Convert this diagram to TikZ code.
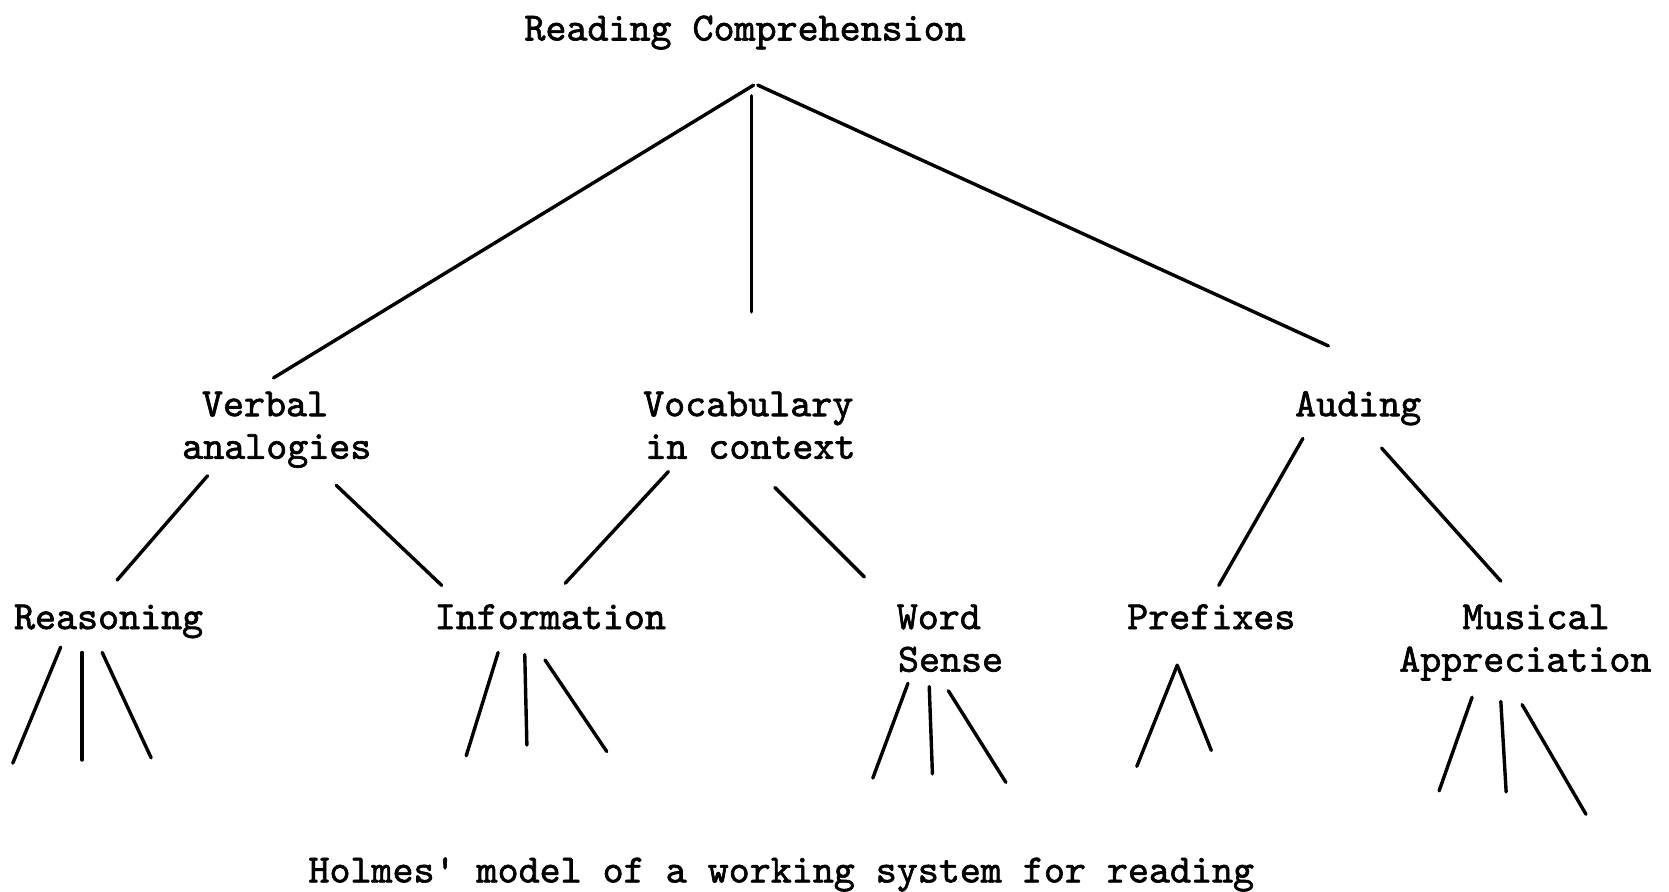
\documentclass[tikz,border=0pt]{standalone}
\usepackage{fontspec}
\newfontfamily\twfont{lmmono10-regular.otf}[FakeBold=1.6]
\begin{document}
\begin{tikzpicture}[x=0.5pt,y=-0.5pt,
  lbl/.style={font=\twfont\fontsize{18.8}{20}\selectfont,inner sep=0pt,anchor=base},
  edge/.style={line width=1.6pt,line cap=round}]
\useasboundingbox (0,0) rectangle (1568,838);
% labels
\node[lbl] (root) at (700,38) {Reading Comprehension};
\node[lbl] (verbal1) at (249,391) {Verbal};
\node[lbl] (verbal2) at (260,431) {analogies};
\node[lbl] (voc1) at (703,391) {Vocabulary};
\node[lbl] (voc2) at (705,431) {in context};
\node[lbl] (aud) at (1276,391) {Auding};
\node[lbl] (reas) at (102,591) {Reasoning};
\node[lbl] (info) at (517,591) {Information};
\node[lbl] (word1) at (882,591) {Word};
\node[lbl] (word2) at (893,631) {Sense};
\node[lbl] (pref) at (1138,591) {Prefixes};
\node[lbl] (mus1) at (1443,591) {Musical};
\node[lbl] (mus2) at (1433,631) {Appreciation};
\node[lbl] (cap) at (734,829) {Holmes\textquotesingle{} model of a working system for reading};
% coordinates
\coordinate (r0) at (708,80);
\coordinate (r1) at (257,355);
\coordinate (r2a) at (706,90);
\coordinate (r2) at (706,293);
\coordinate (r3a) at (712,80);
\coordinate (r3) at (1248,325);
\coordinate (va0) at (195,447); \coordinate (va1) at (110,545);
\coordinate (vb0) at (316,456); \coordinate (vb1) at (415,550);
\coordinate (ca0) at (628,443); \coordinate (ca1) at (531,548);
\coordinate (cb0) at (728,458); \coordinate (cb1) at (812,542);
\coordinate (aa0) at (1224,412); \coordinate (aa1) at (1145,550);
\coordinate (ab0) at (1298,421); \coordinate (ab1) at (1410,546);
% level 3
\coordinate (ra0) at (57,608); \coordinate (ra1) at (12,717);
\coordinate (rb0) at (77,613); \coordinate (rb1) at (77,714);
\coordinate (rc0) at (96,613); \coordinate (rc1) at (142,712);
\coordinate (ia0) at (468,613); \coordinate (ia1) at (438,710);
\coordinate (ib0) at (493,615); \coordinate (ib1) at (495,700);
\coordinate (ic0) at (512,620); \coordinate (ic1) at (570,706);
\coordinate (wa0) at (853,642); \coordinate (wa1) at (820,731);
\coordinate (wb0) at (873,645); \coordinate (wb1) at (876,727);
\coordinate (wc0) at (891,649); \coordinate (wc1) at (945,735);
\coordinate (p0) at (1106,625); \coordinate (pa1) at (1068,720); \coordinate (pb1) at (1138,705);
\coordinate (ma0) at (1383,655); \coordinate (ma1) at (1352,743);
\coordinate (mb0) at (1410,659); \coordinate (mb1) at (1415,744);
\coordinate (mc0) at (1430,662); \coordinate (mc1) at (1490,765);
% edges
\draw[edge] (r0) -- (r1);
\draw[edge] (r2a) -- (r2);
\draw[edge] (r3a) -- (r3);
\draw[edge] (va0) -- (va1);
\draw[edge] (vb0) -- (vb1);
\draw[edge] (ca0) -- (ca1);
\draw[edge] (cb0) -- (cb1);
\draw[edge] (aa0) -- (aa1);
\draw[edge] (ab0) -- (ab1);
\draw[edge] (ra0) -- (ra1);
\draw[edge] (rb0) -- (rb1);
\draw[edge] (rc0) -- (rc1);
\draw[edge] (ia0) -- (ia1);
\draw[edge] (ib0) -- (ib1);
\draw[edge] (ic0) -- (ic1);
\draw[edge] (wa0) -- (wa1);
\draw[edge] (wb0) -- (wb1);
\draw[edge] (wc0) -- (wc1);
\draw[edge] (p0) -- (pa1);
\draw[edge] (p0) -- (pb1);
\draw[edge] (ma0) -- (ma1);
\draw[edge] (mb0) -- (mb1);
\draw[edge] (mc0) -- (mc1);
\end{tikzpicture}
\end{document}
